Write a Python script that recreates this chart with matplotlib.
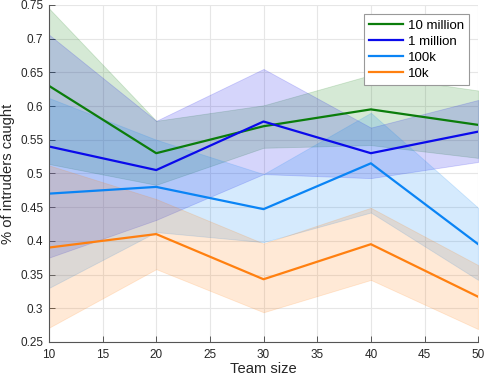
import numpy as np
import matplotlib
matplotlib.use("Agg")
import matplotlib.pyplot as plt

plt.rcParams["font.family"] = ["Liberation Sans", "DejaVu Sans"]

team_size = [10, 20, 30, 40, 50]
labels = ["10 million", "1 million", "100k", "10k"]
colors = ["#0b7d0b", "#0a0aeb", "#0a84f5", "#ff8010"]

# mean and band (upper / lower) per series
mean_10m = [0.630, 0.530, 0.570, 0.595, 0.572]
upper_10m = [0.745, 0.578, 0.601, 0.646, 0.623]
lower_10m = [0.514, 0.483, 0.538, 0.542, 0.523]

mean_1m = [0.540, 0.505, 0.577, 0.530, 0.562]
upper_1m = [0.706, 0.578, 0.655, 0.568, 0.609]
lower_1m = [0.375, 0.431, 0.499, 0.493, 0.517]

mean_100k = [0.470, 0.480, 0.447, 0.515, 0.395]
upper_100k = [0.612, 0.550, 0.499, 0.590, 0.449]
lower_100k = [0.330, 0.413, 0.398, 0.442, 0.342]

mean_10k = [0.390, 0.410, 0.343, 0.395, 0.317]
upper_10k = [0.512, 0.462, 0.396, 0.449, 0.364]
lower_10k = [0.271, 0.358, 0.294, 0.342, 0.269]

means = [mean_10m, mean_1m, mean_100k, mean_10k]
uppers = [upper_10m, upper_1m, upper_100k, upper_10k]
lowers = [lower_10m, lower_1m, lower_100k, lower_10k]

fig = plt.figure(figsize=(4.84, 3.77), dpi=100)
ax = fig.add_axes([0.101, 0.093, 0.887, 0.894])

for m, u, l, c in zip(means, uppers, lowers, colors):
    ax.fill_between(team_size, l, u, color=c, alpha=0.17, linewidth=0.6,
                    edgecolor=c)
for m, c, lab in zip(means, colors, labels):
    ax.plot(team_size, m, color=c, linewidth=1.6, label=lab)

ax.set_xlim(10, 50)
ax.set_ylim(0.25, 0.75)
ax.set_xticks(np.arange(10, 51, 5))
ax.set_yticks(np.arange(0.25, 0.751, 0.05))
ax.set_yticklabels(["0.25", "0.3", "0.35", "0.4", "0.45", "0.5", "0.55",
                    "0.6", "0.65", "0.7", "0.75"])
ax.grid(True, color="#e6e6e6", linewidth=0.8)
ax.set_axisbelow(True)
for s in ["top", "right"]:
    ax.spines[s].set_visible(False)
for s in ["left", "bottom"]:
    ax.spines[s].set_color("#555555")
    ax.spines[s].set_linewidth(0.8)
ax.tick_params(direction="in", length=4, colors="#262626", labelsize=8.5,
               width=0.7)
ax.tick_params(axis="x", pad=5)
ax.tick_params(axis="y", pad=4)
ax.tick_params(axis="both", color="#555555")
ax.set_xlabel("Team size", fontsize=10.6, color="#262626", labelpad=0.5)
ax.set_ylabel("% of intruders caught", fontsize=10.6, color="#262626",
              labelpad=4)

leg = ax.legend(loc="upper right", bbox_to_anchor=(0.979, 0.973), fontsize=9.5,
                fancybox=False, framealpha=1, edgecolor="#999999",
                handlelength=2.6, handletextpad=0.35, borderpad=0.4,
                labelspacing=0.3, borderaxespad=0)
leg.get_frame().set_linewidth(0.8)

fig.savefig("out.png", dpi=100)
